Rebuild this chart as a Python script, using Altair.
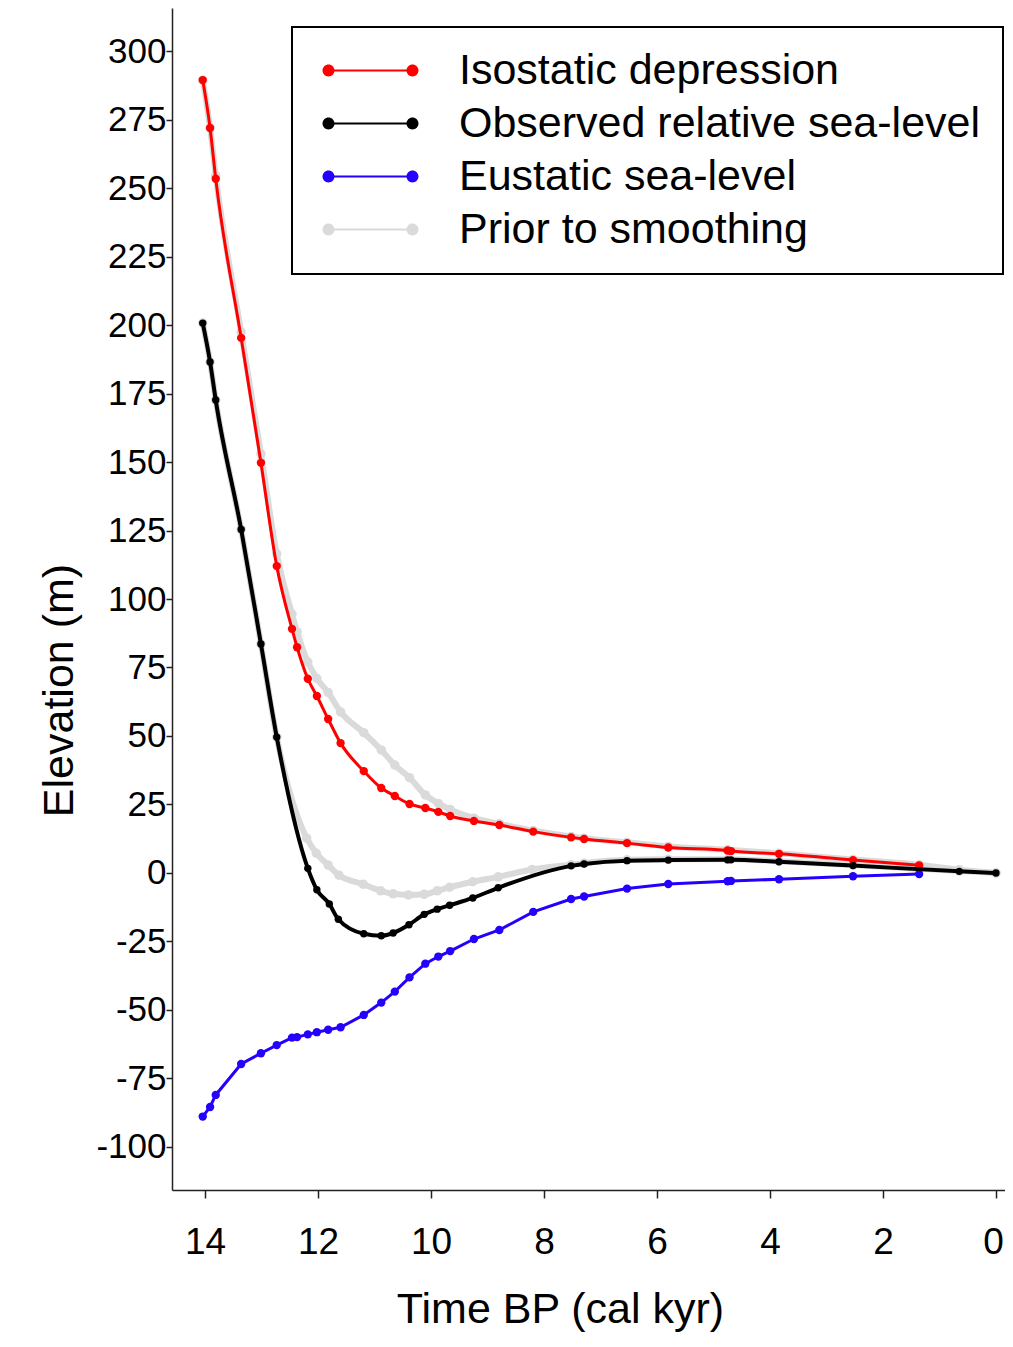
import altair as alt
import pandas as pd

# ---------------- data ----------------
SERIES = ["Isostatic depression", "Observed relative sea-level",
          "Eustatic sea-level", "Prior to smoothing"]
COLORS = ["#ff0000", "#000000", "#2400ff", "#dadada"]

iso_time = [14.04, 13.91, 13.81, 13.36, 13.01, 12.73, 12.46, 12.37, 12.18, 12.02,
            11.82, 11.60, 11.19, 10.88, 10.64, 10.38, 10.10, 9.87, 9.66, 9.24,
            8.79, 8.19, 7.52, 7.29, 6.53, 5.80, 4.75, 4.69, 3.84, 2.53, 1.36]
iso_elev = [289.4, 271.9, 253.4, 195.3, 149.7, 112.0, 89.1, 82.4, 70.9, 64.6,
            56.2, 47.4, 37.2, 31.0, 28.1, 25.2, 23.7, 22.3, 20.8, 19.0,
            17.5, 15.1, 13.0, 12.4, 10.9, 9.3, 8.2, 8.0, 7.0, 4.7, 2.8]

obs_time = [14.04, 13.91, 13.81, 13.36, 13.01, 12.73, 12.18, 12.02, 11.80, 11.64,
            11.19, 10.88, 10.67, 10.39, 10.12, 9.89, 9.67, 9.26, 8.81, 7.52,
            7.29, 6.53, 5.80, 4.75, 4.69, 3.84, 2.53, 0.65, 0.00]
obs_elev = [200.7, 186.5, 172.6, 125.4, 83.6, 49.6, 1.7, -6.1, -11.3, -16.9,
            -22.2, -22.9, -21.9, -18.9, -15.1, -13.2, -11.8, -9.1, -5.4, 2.6,
            3.3, 4.5, 4.7, 4.8, 4.8, 4.1, 2.7, 0.6, 0.0]

eus_time = [14.04, 13.91, 13.81, 13.36, 13.01, 12.73, 12.46, 12.37, 12.18, 12.02,
            11.82, 11.60, 11.19, 10.88, 10.64, 10.38, 10.10, 9.87, 9.66, 9.24,
            8.79, 8.19, 7.52, 7.29, 6.53, 5.80, 4.75, 4.69, 3.84, 2.53, 1.36]
eus_elev = [-88.9, -85.4, -81.0, -69.7, -65.8, -62.8, -60.1, -59.9, -58.9, -58.1,
            -57.2, -56.3, -51.8, -47.3, -43.3, -38.1, -33.1, -30.5, -28.5, -24.1,
            -20.8, -14.2, -9.5, -8.6, -5.7, -4.0, -3.0, -2.9, -2.3, -1.2, -0.4]

# "Prior to smoothing": upper branch (isostatic) and lower branch (observed)
prior_iso_time = [14.04, 13.91, 13.81, 13.36, 13.01, 12.73, 12.46, 12.37, 12.18, 12.02,
                  11.82, 11.60, 11.19, 10.88, 10.64, 10.38, 10.10, 9.87, 9.66, 9.24,
                  8.79, 8.19, 7.52, 7.29, 6.53, 5.80, 4.75, 3.84, 2.53, 1.36, 0.65, 0.00]
prior_iso_elev = [289.4, 272.0, 254.5, 197.5, 153.0, 116.5, 94.5, 88.0, 77.0, 71.0,
                  65.9, 58.8, 51.2, 44.9, 39.4, 34.8, 28.5, 25.4, 23.2, 20.0,
                  18.0, 15.5, 13.3, 12.7, 11.2, 9.7, 8.5, 7.2, 4.9, 3.0, 1.2, 0.0]
prior_obs_time = [14.04, 13.91, 13.81, 13.36, 13.01, 12.73, 12.20, 12.03, 11.82, 11.63,
                  11.20, 10.89, 10.67, 10.40, 10.12, 9.89, 9.67, 9.26, 8.81, 8.21,
                  7.52, 7.29, 6.53, 5.80, 4.75, 3.84, 2.53, 0.65, 0.00]
prior_obs_elev = [200.7, 186.5, 172.6, 125.4, 83.6, 49.6, 12.7, 7.2, 2.9, -0.8,
                  -4.1, -6.5, -7.6, -8.0, -7.8, -6.5, -5.2, -3.2, -1.4, 1.3,
                  3.0, 3.6, 4.8, 5.0, 5.0, 4.3, 2.9, 0.7, 0.0]

x_ticks = [0, 2, 4, 6, 8, 10, 12, 14]
y_ticks = [-100, -75, -50, -25, 0, 25, 50, 75, 100, 125, 150, 175, 200, 225, 250, 275, 300]

# ---------------- long table ----------------
rows = []
def add(series, part, times, elevs):
    for t, e in zip(times, elevs):
        rows.append({"series": series, "part": part, "time": t, "elev": e})

add(SERIES[3], "prior_iso", prior_iso_time, prior_iso_elev)
add(SERIES[3], "prior_obs", prior_obs_time, prior_obs_elev)
add(SERIES[2], "eus", eus_time, eus_elev)
add(SERIES[0], "iso", iso_time, iso_elev)
add(SERIES[1], "obs", obs_time, obs_elev)
df = pd.DataFrame(rows)

FONT = "Liberation Sans"

x_enc = alt.X(
    "time:Q",
    scale=alt.Scale(domain=[-0.16, 14.584], reverse=True, nice=False, zero=False),
    axis=alt.Axis(values=x_ticks, grid=False, title="Time BP (cal kyr)",
                  domainColor="#222222", domainWidth=1.5, tickColor="#222222",
                  tickWidth=1.5, tickSize=8, labelFontSize=37, labelFont=FONT,
                  labelColor="black", labelPadding=26, labelFlush=False,
                  labelOffset={"condition": {"test": "datum.value == 0", "value": -3},
                               "value": 0},
                  labelOverlap=False, titleFont=FONT, titleFontSize=43,
                  titleFontWeight="normal", titleColor="black", titleX=388,
                  titleY=119, titleAlign="center", titleBaseline="middle"),
)
y_enc = alt.Y(
    "elev:Q",
    scale=alt.Scale(domain=[-115.7, 315.7], nice=False, zero=False),
    axis=alt.Axis(values=y_ticks, grid=False, title="Elevation (m)",
                  labelExpr="datum.value + ''",
                  domainColor="#222222", domainWidth=1.5, tickColor="#222222",
                  tickWidth=1.5, tickSize=6, labelFontSize=35, labelFont=FONT,
                  labelColor="black", labelPadding=0, labelFlush=False,
                  labelOverlap=False, titleFont=FONT, titleFontSize=43,
                  titleFontWeight="normal", titleColor="black", titleAngle=270,
                  titleX=-113, titleY=682, titleAlign="center",
                  titleBaseline="middle"),
)

# legend symbol: two dots joined by a thin bar (unit coords, scaled by sqrt(size)/2 = 21.5 px)
SYMBOL = ("M-1.953,-0.047 L1.953,-0.047 L1.953,0.047 L-1.953,0.047 Z "
          "M-2.232,0 A0.279,0.279 0 1,1 -1.674,0 A0.279,0.279 0 1,1 -2.232,0 Z "
          "M1.674,0 A0.279,0.279 0 1,1 2.232,0 A0.279,0.279 0 1,1 1.674,0 Z")

legend = alt.Legend(title=None, orient="none", legendX=120, legendY=19,
                    padding=22, strokeColor="black", fillColor="white",
                    cornerRadius=0, symbolType=SYMBOL, symbolSize=1849,
                    symbolStrokeWidth=0, symbolOffset=35, labelOffset=67,
                    labelFontSize=43, labelFont=FONT, labelColor="black",
                    labelLimit=1000, rowPadding=9, symbolOpacity=1)

color_enc = alt.Color("series:N", scale=alt.Scale(domain=SERIES, range=COLORS),
                      legend=legend)

base = alt.Chart(df)

def line(series, color, width, interp):
    return base.transform_filter(alt.datum.series == series).mark_line(
        color=color, strokeWidth=width, interpolate=interp
    ).encode(x=x_enc, y=y_enc, detail="part:N")

def pts(series, size):
    return base.transform_filter(alt.datum.series == series).mark_circle(
        size=size, opacity=1
    ).encode(x=x_enc, y=y_enc, color=color_enc)

chart = alt.layer(
    line(SERIES[3], COLORS[3], 6, "monotone"), pts(SERIES[3], 90),
    line(SERIES[2], COLORS[2], 3, "linear"), pts(SERIES[2], 70),
    line(SERIES[0], COLORS[0], 3, "monotone"), pts(SERIES[0], 70),
    line(SERIES[1], COLORS[1], 4, "monotone"), pts(SERIES[1], 55),
).properties(
    width=833, height=1182,
    autosize=alt.AutoSizeParams(type="none"),
    padding={"left": 164, "top": 0, "right": 0, "bottom": 149},
).configure_view(stroke=None).configure_legend(strokeWidth=2)

chart.save("out.html", embed_options={"renderer": "svg", "actions": False})
